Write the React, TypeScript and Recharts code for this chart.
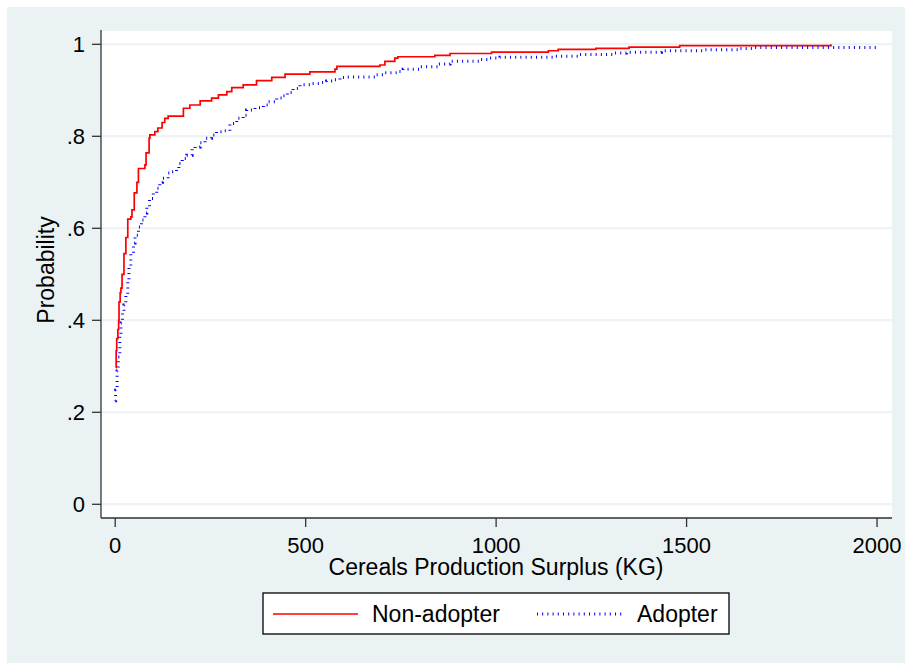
import React from 'react';
import { LineChart, Line, XAxis, YAxis, CartesianGrid } from 'recharts';

const FONT = '"Liberation Sans", Arial, Helvetica, sans-serif';

// Non-adopter empirical CDF (surplus kg, cumulative probability)
const nonAdopterSurplus = [2, 2.5, 4, 7, 9, 10, 13, 15, 18, 23, 28, 33, 41, 44, 50, 57, 61, 78, 81, 89, 91, 104, 112, 123, 130, 139, 179, 196, 223, 253, 271, 293, 306, 336, 371, 411, 446, 511, 577, 582, 695, 708, 734, 742, 839, 879, 988, 1137, 1163, 1262, 1349, 1482, 1879];
const nonAdopterProb = [0.297, 0.334, 0.36, 0.38, 0.4, 0.44, 0.46, 0.47, 0.5, 0.545, 0.58, 0.62, 0.625, 0.64, 0.677, 0.7, 0.73, 0.738, 0.764, 0.796, 0.803, 0.81, 0.818, 0.83, 0.839, 0.844, 0.861, 0.868, 0.877, 0.883, 0.89, 0.897, 0.906, 0.912, 0.921, 0.928, 0.935, 0.94, 0.946, 0.952, 0.955, 0.963, 0.97, 0.973, 0.976, 0.98, 0.983, 0.986, 0.989, 0.991, 0.994, 0.997, 1.0];

// Adopter empirical CDF
const adopterSurplus = [0, 1, 5, 8, 12, 15, 19, 23, 28, 33, 36, 41, 48, 52, 61, 69, 78, 83, 90, 100, 109, 117, 124, 139, 148, 161, 167, 176, 188, 202, 210, 223, 236, 253, 266, 284, 301, 319, 336, 345, 367, 389, 402, 424, 441, 452, 467, 485, 511, 538, 555, 572, 590, 608, 686, 708, 739, 756, 800, 848, 879, 958, 984, 1010, 1150, 1220, 1307, 1342, 1434, 1544, 1640, 1675, 2000];
const adopterProb = [0.225, 0.248, 0.29, 0.32, 0.368, 0.394, 0.416, 0.433, 0.455, 0.484, 0.517, 0.546, 0.568, 0.585, 0.603, 0.618, 0.633, 0.647, 0.665, 0.676, 0.687, 0.7, 0.709, 0.72, 0.723, 0.73, 0.741, 0.752, 0.759, 0.774, 0.777, 0.786, 0.796, 0.803, 0.81, 0.812, 0.828, 0.839, 0.846, 0.857, 0.862, 0.868, 0.875, 0.883, 0.888, 0.895, 0.904, 0.912, 0.915, 0.917, 0.92, 0.923, 0.928, 0.929, 0.934, 0.938, 0.941, 0.946, 0.951, 0.957, 0.963, 0.967, 0.97, 0.972, 0.974, 0.978, 0.981, 0.983, 0.986, 0.988, 0.991, 0.993, 0.993];

const xTicks = [0, 500, 1000, 1500, 2000];
const yTicks = [0, 0.2, 0.4, 0.6, 0.8, 1];
const yTickLabels = ['0', '.2', '.4', '.6', '.8', '1'];

const seriesNames = ['Non-adopter', 'Adopter'];
const xTitle = 'Cereals Production Surplus (KG)';
const yTitle = 'Probability';

const nonAdopter = nonAdopterSurplus.map((x, i) => ({ x, p: nonAdopterProb[i] }));
const adopter = adopterSurplus.map((x, i) => ({ x, p: adopterProb[i] }));

const BG = '#EAF2F3';
const AXIS = '#333333';

export default function App() {
  return (
    <div style={{ position: 'absolute', left: 7, top: 7, width: 898, height: 656, background: BG, fontFamily: FONT }}>
      <div style={{ position: 'absolute', left: 0, top: 0 }}>
        <LineChart width={898} height={656} margin={{ top: 23, right: 13, bottom: 95, left: 0 }}>
          <CartesianGrid horizontal vertical={false} fill="#FFFFFF" stroke={BG} strokeWidth={2} fillOpacity={1} />
          <XAxis
            type="number"
            dataKey="x"
            domain={[-37.3, 2039.3]}
            ticks={xTicks}
            allowDataOverflow
            interval={0}
            height={50}
            tickSize={9}
            tickMargin={10}
            axisLine={{ stroke: AXIS, strokeWidth: 1.3 }}
            tickLine={{ stroke: AXIS, strokeWidth: 1.3 }}
            tick={{ fill: '#000', fontSize: 22, fontFamily: FONT }}
          />
          <YAxis
            type="number"
            domain={[-0.0298, 1.0311]}
            ticks={yTicks}
            allowDataOverflow
            interval={0}
            width={94}
            tickSize={9}
            tickMargin={7}
            tickFormatter={(v: number) => yTickLabels[yTicks.indexOf(v)] ?? String(v)}
            axisLine={{ stroke: AXIS, strokeWidth: 1.3 }}
            tickLine={{ stroke: AXIS, strokeWidth: 1.3 }}
            tick={{ fill: '#000', fontSize: 22, fontFamily: FONT }}
          />
          <Line
            data={nonAdopter}
            dataKey="p"
            type="stepAfter"
            stroke="#FF0000"
            strokeWidth={1.7}
            dot={false}
            activeDot={false}
            isAnimationActive={false}
          />
          <Line
            data={adopter}
            dataKey="p"
            type="stepAfter"
            stroke="#0000FF"
            strokeWidth={3}
            strokeDasharray="1 4.2"
            dot={false}
            activeDot={false}
            isAnimationActive={false}
          />
        </LineChart>
      </div>
      <svg width={898} height={656} style={{ position: 'absolute', left: 0, top: 0, pointerEvents: 'none' }}>
        <text x={489} y={568} textAnchor="middle" fontSize={23} fontFamily={FONT} fill="#000">{xTitle}</text>
        <text x={47} y={263} textAnchor="middle" fontSize={23} fontFamily={FONT} fill="#000" transform="rotate(-90 47 263)">{yTitle}</text>
        <g transform="translate(256,586)">
          <rect x={0} y={0} width={466} height={41} fill="#FFFFFF" stroke="#000" strokeWidth={1.3} />
          <line x1={10} x2={95} y1={21} y2={21} stroke="#FF0000" strokeWidth={1.7} />
          <text x={109} y={29} fontSize={23} fontFamily={FONT} fill="#000">{seriesNames[0]}</text>
          <line x1={274} x2={359} y1={21} y2={21} stroke="#0000FF" strokeWidth={3} strokeDasharray="1 4.2" />
          <text x={374} y={29} fontSize={23} fontFamily={FONT} fill="#000">{seriesNames[1]}</text>
        </g>
      </svg>
    </div>
  );
}
